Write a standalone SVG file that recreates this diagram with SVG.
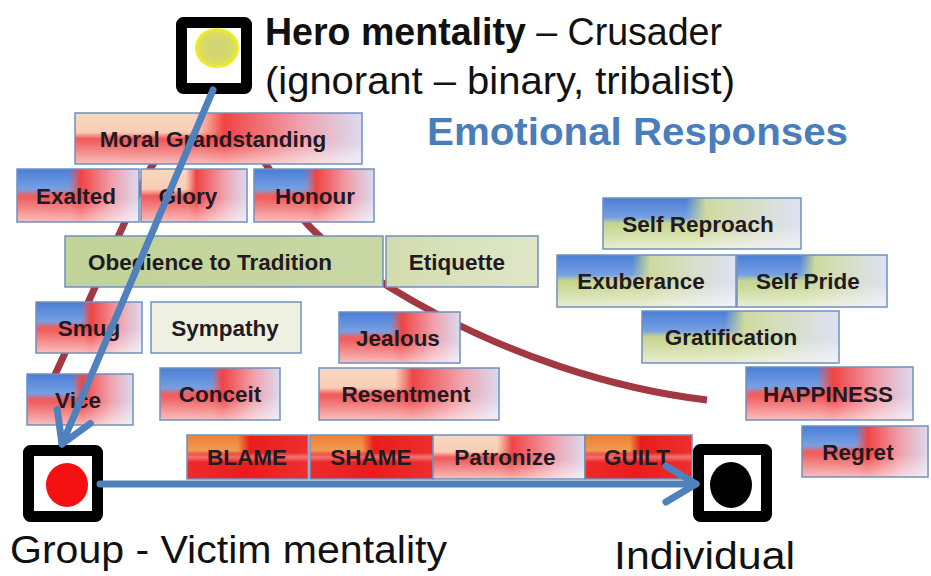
<svg xmlns="http://www.w3.org/2000/svg" width="931" height="576" viewBox="0 0 931 576">
<defs>
  <linearGradient id="hRed" x1="0" y1="0" x2="1" y2="0">
    <stop offset="0" stop-color="#f06060"/>
    <stop offset="0.44" stop-color="#f05a5a"/>
    <stop offset="0.52" stop-color="#f04444"/>
    <stop offset="0.78" stop-color="#f0a0aa"/>
    <stop offset="1" stop-color="#dcdaf0"/>
  </linearGradient>
  <linearGradient id="hRedStrong" x1="0" y1="0" x2="1" y2="0">
    <stop offset="0" stop-color="#ee2a2a"/>
    <stop offset="0.5" stop-color="#ea1c1c"/>
    <stop offset="1" stop-color="#ee2e2e"/>
  </linearGradient>
  <linearGradient id="hGreenBlue" x1="0" y1="0" x2="1" y2="0">
    <stop offset="0" stop-color="#c6d590"/>
    <stop offset="0.45" stop-color="#cad894"/>
    <stop offset="0.62" stop-color="#d4dcb0"/>
    <stop offset="1" stop-color="#dde2f2"/>
  </linearGradient>
  <linearGradient id="hGreen" x1="0" y1="0" x2="1" y2="0">
    <stop offset="0" stop-color="#c0d398"/>
    <stop offset="1" stop-color="#c8d7a4"/>
  </linearGradient>
  <linearGradient id="hGreenLight" x1="0" y1="0" x2="1" y2="0">
    <stop offset="0" stop-color="#d2ddae"/>
    <stop offset="1" stop-color="#e0e6c8"/>
  </linearGradient>
  <linearGradient id="vBlue" x1="0" y1="0" x2="0" y2="1">
    <stop offset="0" stop-color="#4a7ed6"/>
    <stop offset="0.38" stop-color="#76a0e2"/>
    <stop offset="0.5" stop-color="#76a0e2" stop-opacity="0"/>
    <stop offset="1" stop-color="#76a0e2" stop-opacity="0"/>
  </linearGradient>
  <linearGradient id="vPeach" x1="0" y1="0" x2="0" y2="1">
    <stop offset="0" stop-color="#f9d8c2"/>
    <stop offset="0.38" stop-color="#f8cdb4"/>
    <stop offset="0.5" stop-color="#f8cdb4" stop-opacity="0"/>
    <stop offset="1" stop-color="#f8cdb4" stop-opacity="0"/>
  </linearGradient>
  <linearGradient id="vOrange" x1="0" y1="0" x2="0" y2="1">
    <stop offset="0" stop-color="#ee8030"/>
    <stop offset="0.36" stop-color="#f09a52"/>
    <stop offset="0.46" stop-color="#f09a52" stop-opacity="0"/>
    <stop offset="1" stop-color="#f09a52" stop-opacity="0"/>
  </linearGradient>
  <linearGradient id="vLight" x1="0" y1="0" x2="0" y2="1">
    <stop offset="0" stop-color="#ffffff" stop-opacity="0"/>
    <stop offset="0.55" stop-color="#ffffff" stop-opacity="0"/>
    <stop offset="1" stop-color="#ffffff" stop-opacity="0.6"/>
  </linearGradient>
  <linearGradient id="vBand" x1="0" y1="0" x2="0" y2="1">
    <stop offset="0" stop-color="#ffffff" stop-opacity="0"/>
    <stop offset="0.4" stop-color="#ffffff" stop-opacity="0"/>
    <stop offset="0.5" stop-color="#ffffff" stop-opacity="0.35"/>
    <stop offset="0.62" stop-color="#ffffff" stop-opacity="0"/>
    <stop offset="1" stop-color="#ffffff" stop-opacity="0"/>
  </linearGradient>
  <linearGradient id="mLg" x1="0" y1="0" x2="1" y2="0">
    <stop offset="0" stop-color="#fff"/>
    <stop offset="0.42" stop-color="#fff"/>
    <stop offset="0.52" stop-color="#000"/>
  </linearGradient>
  <mask id="mL" maskContentUnits="objectBoundingBox">
    <rect x="0" y="0" width="1" height="1" fill="url(#mLg)"/>
  </mask>
  <radialGradient id="sun" cx="0.5" cy="0.5" r="0.5">
    <stop offset="0" stop-color="#d0d27a"/>
    <stop offset="0.72" stop-color="#d8da66"/>
    <stop offset="1" stop-color="#f2f01c"/>
  </radialGradient>
  <filter id="soft" x="-5%" y="-5%" width="110%" height="110%">
    <feGaussianBlur stdDeviation="0.7"/>
  </filter>
  <marker id="ah" markerUnits="userSpaceOnUse" markerWidth="60" markerHeight="60" viewBox="-40 -30 50 60" refX="0" refY="0" orient="auto" overflow="visible">
    <path d="M-30,-18 L0,0 L-30,18" fill="none" stroke="#4f81bd" stroke-width="7" stroke-linecap="round" stroke-linejoin="round"/>
  </marker>
</defs>
<style>
  .bd{fill:none;stroke:#7090bc;stroke-width:1.5}
  .red .l1{fill:url(#hRed)}
  .strong .l1{fill:url(#hRedStrong)}
  .gb .l1{fill:url(#hGreenBlue)}
  .blue .l2{fill:url(#vBlue)}
  .peach .l2{fill:url(#vPeach)}
  .orange .l2{fill:url(#vOrange)}
  .l3{fill:url(#vLight)}
  .strong .l3{fill:url(#vBand)}
  .lb{font-family:"Liberation Sans",Arial,sans-serif;font-weight:bold;font-size:22.5px;fill:#221a22;text-anchor:middle}
  .big{font-family:"Liberation Sans",Arial,sans-serif;font-size:38px;fill:#111}
  .frame{fill:#fff;stroke:#000;stroke-width:11}
  .conn{fill:none;stroke:#4f81bd;stroke-width:7;stroke-linecap:round;marker-end:url(#ah)}
</style>
<rect width="931" height="576" fill="#ffffff"/>

<g id="arc">
  <path d="M38,412 L145,178 Q195,85 255,148 L300,215 C330,258 500,375 707,400" fill="none" stroke="#a23842" stroke-width="7" filter="url(#soft)"/>
</g>

<g id="n-hero">
  <rect class="frame" x="181.5" y="22.5" width="65" height="66" rx="2"/>
  <ellipse cx="217" cy="48" rx="22" ry="20" fill="url(#sun)"/>
  <text class="big" x="265" y="45" textLength="457" lengthAdjust="spacingAndGlyphs"><tspan font-weight="bold">Hero mentality</tspan> – Crusader</text>
  <text class="big" x="265" y="94" textLength="470" lengthAdjust="spacingAndGlyphs">(ignorant – binary, tribalist)</text>
</g>
<g id="title">
  <text x="427" y="145" font-family="'Liberation Sans',Arial,sans-serif" font-weight="bold" font-size="38" fill="#4a7ebb" textLength="421" lengthAdjust="spacingAndGlyphs">Emotional Responses</text>
</g>

<g id="n-moral" class="red peach">
  <rect class="l1" x="75" y="113" width="287" height="51"/><rect class="l2" x="75" y="113" width="287" height="51" mask="url(#mL)"/><rect class="l3" x="75" y="113" width="287" height="51"/><rect class="bd" x="75" y="113" width="287" height="51"/>
  <text class="lb" x="213" y="146.5">Moral Grandstanding</text>
</g>
<g id="n-exalted" class="red blue">
  <rect class="l1" x="17" y="169" width="122" height="53"/><rect class="l2" x="17" y="169" width="122" height="53" mask="url(#mL)"/><rect class="l3" x="17" y="169" width="122" height="53"/><rect class="bd" x="17" y="169" width="122" height="53"/>
  <text class="lb" x="76" y="203.5">Exalted</text>
</g>
<g id="n-glory" class="red peach">
  <rect class="l1" x="141" y="169" width="106" height="53"/><rect class="l2" x="141" y="169" width="106" height="53" mask="url(#mL)"/><rect class="l3" x="141" y="169" width="106" height="53"/><rect class="bd" x="141" y="169" width="106" height="53"/>
  <text class="lb" x="188" y="203.5">Glory</text>
</g>
<g id="n-honour" class="red blue">
  <rect class="l1" x="254" y="169" width="120" height="53"/><rect class="l2" x="254" y="169" width="120" height="53" mask="url(#mL)"/><rect class="l3" x="254" y="169" width="120" height="53"/><rect class="bd" x="254" y="169" width="120" height="53"/>
  <text class="lb" x="315" y="203.5">Honour</text>
</g>
<g id="n-obedience">
  <rect x="65" y="236" width="318" height="51" fill="url(#hGreen)"/><rect class="bd" x="65" y="236" width="318" height="51"/>
  <text class="lb" x="210" y="269.5">Obedience to Tradition</text>
</g>
<g id="n-etiquette">
  <rect x="386" y="236" width="152" height="51" fill="url(#hGreenLight)"/><rect class="bd" x="386" y="236" width="152" height="51"/>
  <text class="lb" x="457" y="269.5">Etiquette</text>
</g>
<g id="n-smug" class="red blue">
  <rect class="l1" x="36" y="302" width="106" height="51"/><rect class="l2" x="36" y="302" width="106" height="51" mask="url(#mL)"/><rect class="l3" x="36" y="302" width="106" height="51"/><rect class="bd" x="36" y="302" width="106" height="51"/>
  <text class="lb" x="89" y="335.5">Smug</text>
</g>
<g id="n-sympathy">
  <rect x="151" y="302" width="150" height="51" fill="#eef1e1"/><rect class="bd" x="151" y="302" width="150" height="51"/>
  <text class="lb" x="225" y="335.5">Sympathy</text>
</g>
<g id="n-jealous" class="red blue">
  <rect class="l1" x="339" y="312" width="121" height="51"/><rect class="l2" x="339" y="312" width="121" height="51" mask="url(#mL)"/><rect class="l3" x="339" y="312" width="121" height="51"/><rect class="bd" x="339" y="312" width="121" height="51"/>
  <text class="lb" x="398" y="345.5">Jealous</text>
</g>
<g id="n-vice" class="red blue">
  <rect class="l1" x="27" y="374" width="106" height="51"/><rect class="l2" x="27" y="374" width="106" height="51" mask="url(#mL)"/><rect class="l3" x="27" y="374" width="106" height="51"/><rect class="bd" x="27" y="374" width="106" height="51"/>
  <text class="lb" x="78" y="407.5">Vice</text>
</g>
<g id="n-conceit" class="red blue">
  <rect class="l1" x="160" y="368" width="120" height="52"/><rect class="l2" x="160" y="368" width="120" height="52" mask="url(#mL)"/><rect class="l3" x="160" y="368" width="120" height="52"/><rect class="bd" x="160" y="368" width="120" height="52"/>
  <text class="lb" x="220" y="402">Conceit</text>
</g>
<g id="n-resentment" class="red peach">
  <rect class="l1" x="319" y="368" width="180" height="52"/><rect class="l2" x="319" y="368" width="180" height="52" mask="url(#mL)"/><rect class="l3" x="319" y="368" width="180" height="52"/><rect class="bd" x="319" y="368" width="180" height="52"/>
  <text class="lb" x="406" y="402">Resentment</text>
</g>
<g id="n-selfreproach" class="gb blue">
  <rect class="l1" x="603" y="198" width="198" height="51"/><rect class="l2" x="603" y="198" width="198" height="51" mask="url(#mL)"/><rect class="l3" x="603" y="198" width="198" height="51"/><rect class="bd" x="603" y="198" width="198" height="51"/>
  <text class="lb" x="698" y="231.5">Self Reproach</text>
</g>
<g id="n-exuberance" class="gb blue">
  <rect class="l1" x="557" y="255" width="179" height="52"/><rect class="l2" x="557" y="255" width="179" height="52" mask="url(#mL)"/><rect class="l3" x="557" y="255" width="179" height="52"/><rect class="bd" x="557" y="255" width="179" height="52"/>
  <text class="lb" x="641" y="289">Exuberance</text>
</g>
<g id="n-selfpride" class="gb blue">
  <rect class="l1" x="737" y="255" width="150" height="52"/><rect class="l2" x="737" y="255" width="150" height="52" mask="url(#mL)"/><rect class="l3" x="737" y="255" width="150" height="52"/><rect class="bd" x="737" y="255" width="150" height="52"/>
  <text class="lb" x="808" y="289">Self Pride</text>
</g>
<g id="n-gratification" class="gb blue">
  <rect class="l1" x="642" y="311" width="197" height="52"/><rect class="l2" x="642" y="311" width="197" height="52" mask="url(#mL)"/><rect class="l3" x="642" y="311" width="197" height="52"/><rect class="bd" x="642" y="311" width="197" height="52"/>
  <text class="lb" x="731" y="345">Gratification</text>
</g>
<g id="n-happiness" class="red blue">
  <rect class="l1" x="746" y="367" width="167" height="53"/><rect class="l2" x="746" y="367" width="167" height="53" mask="url(#mL)"/><rect class="l3" x="746" y="367" width="167" height="53"/><rect class="bd" x="746" y="367" width="167" height="53"/>
  <text class="lb" x="828" y="401.5">HAPPINESS</text>
</g>
<g id="n-regret" class="red blue">
  <rect class="l1" x="802" y="426" width="126" height="51"/><rect class="l2" x="802" y="426" width="126" height="51" mask="url(#mL)"/><rect class="l3" x="802" y="426" width="126" height="51"/><rect class="bd" x="802" y="426" width="126" height="51"/>
  <text class="lb" x="858" y="459.5">Regret</text>
</g>
<g id="n-blame" class="strong orange">
  <rect class="l1" x="187" y="435" width="121" height="44"/><rect class="l2" x="187" y="435" width="121" height="44" mask="url(#mL)"/><rect class="l3" x="187" y="435" width="121" height="44"/><rect class="bd" x="187" y="435" width="121" height="44"/>
  <text class="lb" x="247" y="465">BLAME</text>
</g>
<g id="n-shame" class="strong orange">
  <rect class="l1" x="310" y="435" width="123" height="44"/><rect class="l2" x="310" y="435" width="123" height="44" mask="url(#mL)"/><rect class="l3" x="310" y="435" width="123" height="44"/><rect class="bd" x="310" y="435" width="123" height="44"/>
  <text class="lb" x="371" y="465">SHAME</text>
</g>
<g id="n-patronize" class="red peach">
  <rect class="l1" x="433" y="435" width="152" height="44"/><rect class="l2" x="433" y="435" width="152" height="44" mask="url(#mL)"/><rect class="l3" x="433" y="435" width="152" height="44"/><rect class="bd" x="433" y="435" width="152" height="44"/>
  <text class="lb" x="505" y="465">Patronize</text>
</g>
<g id="n-guilt" class="strong orange">
  <rect class="l1" x="585" y="435" width="107" height="44"/><rect class="l2" x="585" y="435" width="107" height="44" mask="url(#mL)"/><rect class="l3" x="585" y="435" width="107" height="44"/><rect class="bd" x="585" y="435" width="107" height="44"/>
  <text class="lb" x="637" y="465">GUILT</text>
</g>

<g id="n-group">
  <rect class="frame" x="28.5" y="450.5" width="69" height="66" rx="2"/>
  <ellipse cx="67" cy="485" rx="21" ry="22" fill="#f21010"/>
  <text class="big" x="10" y="563" textLength="437" lengthAdjust="spacingAndGlyphs">Group - Victim mentality</text>
</g>
<g id="n-individual">
  <rect class="frame" x="698.5" y="449.5" width="68" height="67" rx="2"/>
  <ellipse cx="731" cy="485" rx="21" ry="23" fill="#000"/>
  <text class="big" x="614" y="569" textLength="181" lengthAdjust="spacingAndGlyphs">Individual</text>
</g>

<g id="connectors">
  <path class="conn" d="M213,90 L62,444"/>
  <path class="conn" d="M100,484 L696,484"/>
</g>
</svg>
